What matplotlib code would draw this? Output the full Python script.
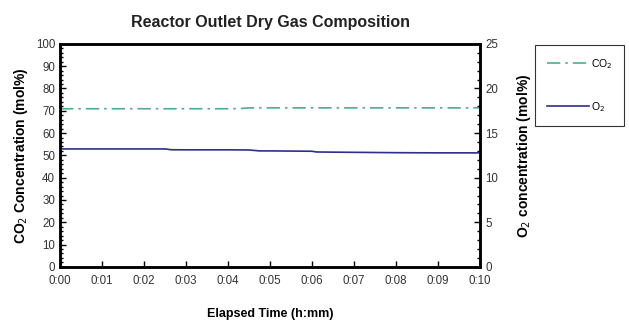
import matplotlib
matplotlib.use("Agg")
import matplotlib.pyplot as plt
from matplotlib.ticker import MultipleLocator, FuncFormatter

plt.rcParams['font.family'] = ['Liberation Sans', 'DejaVu Sans']

# elapsed time in minutes
time_min = [0, 0.5, 1, 1.5, 2, 2.5, 2.65, 3, 3.5, 4, 4.3, 4.5, 4.75, 5, 5.5, 6, 6.1, 6.5, 7, 7.5, 8, 8.5, 9, 9.5, 10]
co2_pct = [70.9, 70.9, 70.9, 70.9, 70.9, 70.9, 70.9, 70.9, 70.9, 70.9, 71.0, 71.3, 71.3, 71.3, 71.3, 71.3, 71.3,
           71.3, 71.3, 71.3, 71.3, 71.3, 71.3, 71.3, 71.3]
o2_pct = [13.22, 13.22, 13.22, 13.22, 13.22, 13.22, 13.13, 13.12, 13.12, 13.12, 13.11, 13.1, 13.0, 13.0, 12.98,
          12.96, 12.88, 12.86, 12.84, 12.82, 12.8, 12.79, 12.78, 12.78, 12.78]

fig = plt.figure(figsize=(6.29, 3.2), dpi=100)
ax = fig.add_axes([0.0954, 0.166, 0.668, 0.697])
ax2 = ax.twinx()

l1, = ax.plot(time_min, co2_pct, color='#5aa88a', lw=1.2, ls=(0, (8, 3, 1.5, 3)), label='CO$_2$')
l2, = ax2.plot(time_min, o2_pct, color='#2e2e8c', lw=1.2, label='O$_2$')

ax.set_xlim(0, 10)
ax.set_ylim(0, 100)
ax2.set_ylim(0, 25)
ax.xaxis.set_major_locator(MultipleLocator(1))
ax.xaxis.set_major_formatter(FuncFormatter(lambda v, p: f"0:{int(round(v)):02d}"))
ax.yaxis.set_major_locator(MultipleLocator(10))
ax.yaxis.set_minor_locator(MultipleLocator(2))
ax2.yaxis.set_major_locator(MultipleLocator(5))
ax2.yaxis.set_minor_locator(MultipleLocator(1))

for a in (ax, ax2):
    for s in a.spines.values():
        s.set_linewidth(1.8)
    a.tick_params(which='both', direction='in', labelsize=8.3, labelcolor='#333333', width=1)
    a.tick_params(which='major', length=4)
    a.tick_params(which='minor', length=2)
ax.tick_params(axis='x', pad=6)

ax.set_title('Reactor Outlet Dry Gas Composition', fontsize=11.5, fontweight='bold', color='#222222', pad=12)
ax.set_xlabel('Elapsed Time (h:mm)', fontsize=9, fontweight='bold', labelpad=15)
ax.set_ylabel('CO$_2$ Concentration (mol%)', fontsize=10, fontweight='bold', labelpad=4)
ax2.set_ylabel('O$_2$ concentration (mol%)', fontsize=10, fontweight='bold', labelpad=12)

leg = fig.legend(handles=[l1, l2], loc='upper left', bbox_to_anchor=(0.851, 0.859),
                 fontsize=7.5, frameon=True, fancybox=False, edgecolor='black',
                 handlelength=4.0, handletextpad=0.2, labelspacing=2.8, borderpad=1.15,
                 borderaxespad=0)
leg.get_frame().set_linewidth(0.8)

fig.savefig('out.png', dpi=100)
